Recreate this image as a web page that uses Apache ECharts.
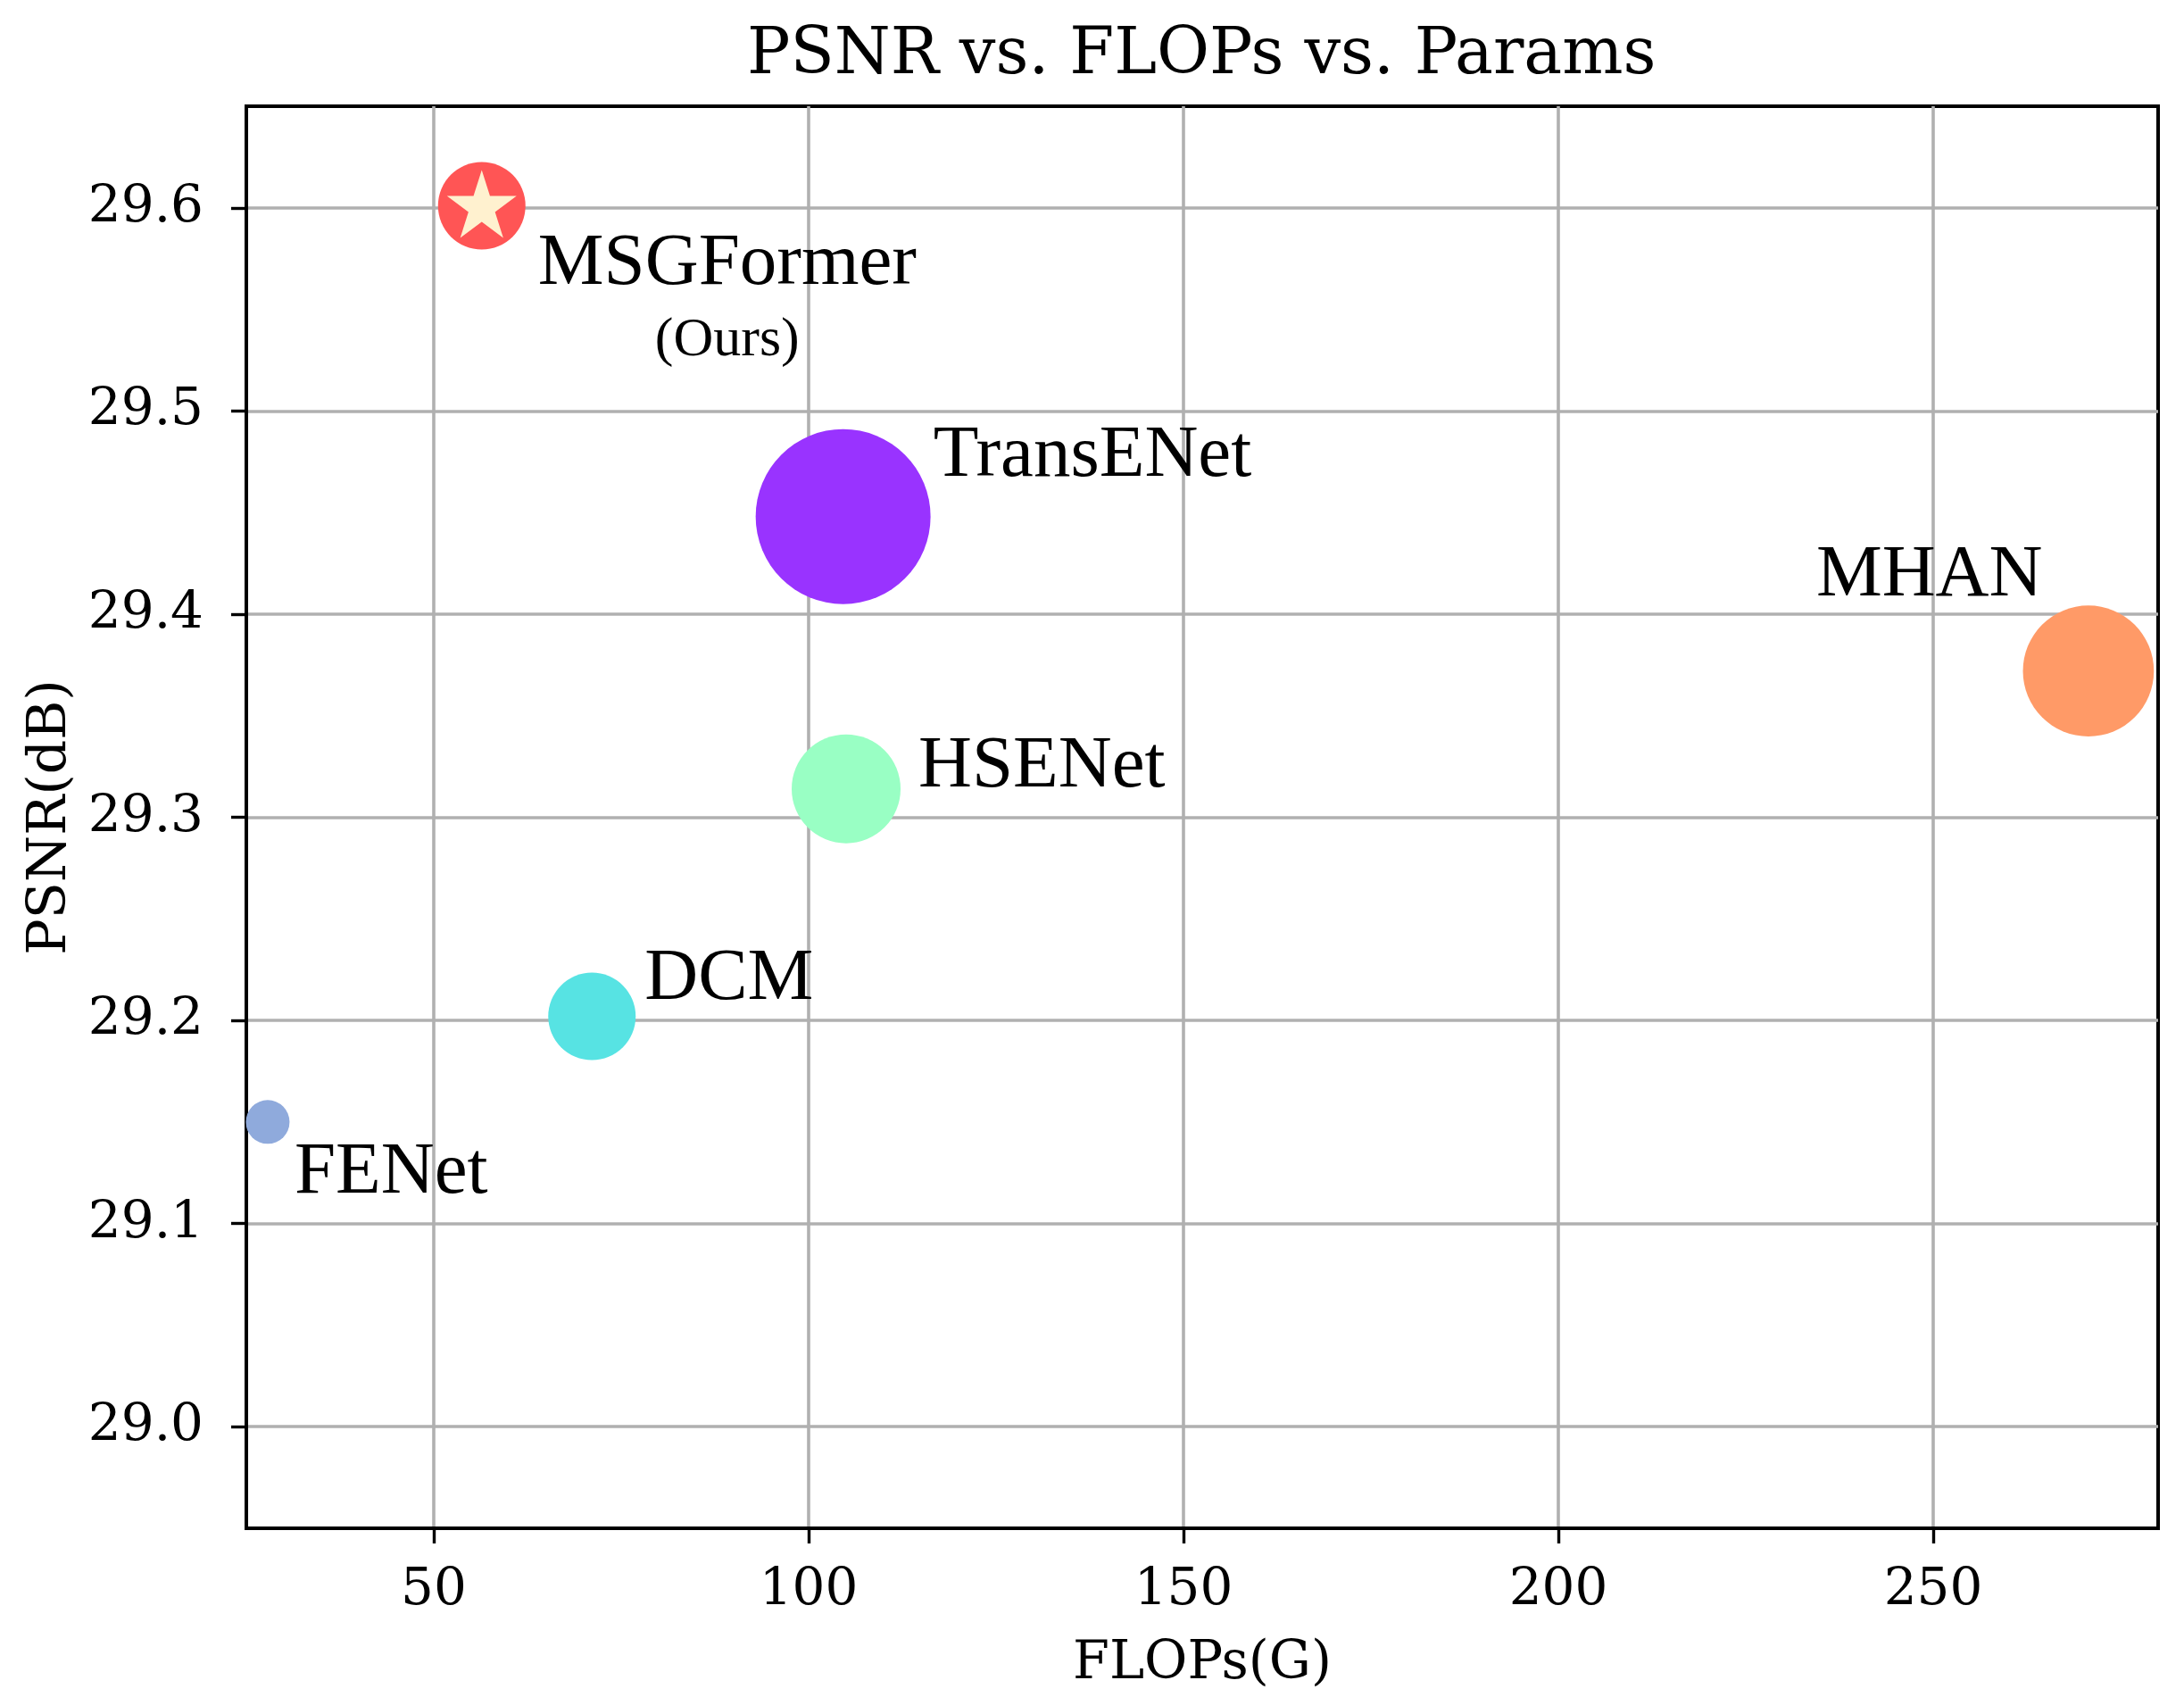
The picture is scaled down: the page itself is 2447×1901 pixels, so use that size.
<!DOCTYPE html>
<html><head><meta charset="utf-8">
<script src="https://cdn.jsdelivr.net/npm/echarts@6/dist/echarts.min.js"></script>
<style>html,body{margin:0;padding:0;background:#fff}#c{width:2447px;height:1901px}</style>
</head><body><div id="c"></div>
<script>
// ---- data ----
const models = ['MSGFormer', 'TransENet', 'MHAN', 'HSENet', 'DCM', 'FENet'];
const flops = [56.4, 104.6, 270.7, 105.0, 71.1, 27.85];
const psnr = [29.601, 29.448, 29.372, 29.314, 29.202, 29.15];
const bubbleArea = [2400, 9600, 5380, 3720, 2400, 600]; // marker area (Params), px^2
const xTicks = [50, 100, 150, 200, 250];
const yTicks = [29.0, 29.1, 29.2, 29.3, 29.4, 29.5, 29.6];
const oursNote = '(Ours)';

// ---- styles ----
const colors = ['#ff5555', '#9933ff', '#ff9a67', '#99ffc4', '#57e3e3', '#8faadc'];
const labelOffsets = [[63, 66], [101, -67], [-305, -106], [81, -24], [59, -41], [30, 57]];
const serif = 'DejaVu Serif';
const times = 'Liberation Serif';

function starPath() {
  const pts = [];
  for (let i = 0; i < 10; i++) {
    const r = i % 2 === 0 ? 1 : 0.381966;
    const a = -Math.PI / 2 + i * Math.PI / 5;
    pts.push((r * Math.cos(a)).toFixed(4) + ',' + (r * Math.sin(a)).toFixed(4));
  }
  return 'path://M' + pts.join('L') + 'Z';
}

const bubbleData = models.map((m, i) => ({
  name: m,
  value: [flops[i], psnr[i], bubbleArea[i]],
  symbolSize: 2 * Math.sqrt(bubbleArea[i]),
  itemStyle: { color: colors[i], opacity: 1 },
  label: {
    show: true, formatter: m, position: 'inside', align: 'left', verticalAlign: 'middle',
    offset: labelOffsets[i], color: '#000', fontFamily: times, fontSize: 83
  }
}));

const chart = echarts.init(document.getElementById('c'), null, { renderer: 'canvas' });
chart.setOption({
  animation: false,
  backgroundColor: '#fff',
  title: {
    text: 'PSNR vs. FLOPs vs. Params',
    left: 832, top: 22,
    textStyle: { fontFamily: serif, fontSize: 72, fontWeight: 'normal', color: '#000' }
  },
  grid: {
    left: 276, right: 29, top: 119, bottom: 189,
    show: true, borderColor: '#000', borderWidth: 4, backgroundColor: 'transparent'
  },
  xAxis: {
    type: 'value', min: 25, max: 280,
    name: 'FLOPs(G)', nameLocation: 'middle', nameGap: 123,
    nameTextStyle: { fontFamily: serif, fontSize: 59, color: '#000' },
    axisLine: { show: true, onZero: false, lineStyle: { color: '#000', width: 4 } },
    axisTick: { show: true, inside: false, length: 17, customValues: xTicks, lineStyle: { color: '#000', width: 3.4 } },
    axisLabel: { customValues: xTicks, margin: 41, fontFamily: serif, fontSize: 58, color: '#000' },
    splitLine: { show: true, lineStyle: { color: '#b0b0b0', width: 3.6 } }
  },
  yAxis: {
    type: 'value', min: 28.95, max: 29.65,
    name: 'PSNR(dB)', nameLocation: 'middle', nameGap: 189,
    nameTextStyle: { fontFamily: serif, fontSize: 60, color: '#000' },
    axisLine: { show: true, onZero: false, lineStyle: { color: '#000', width: 4 } },
    axisTick: { show: true, inside: false, length: 17, customValues: yTicks, lineStyle: { color: '#000', width: 3.4 } },
    axisLabel: { customValues: yTicks, margin: 48, fontFamily: serif, fontSize: 58, color: '#000',
      formatter: v => Number(v).toFixed(1) },
    splitLine: { show: true, lineStyle: { color: '#b0b0b0', width: 3.6 } }
  },
  series: [
    {
      type: 'scatter', name: 'models', symbol: 'circle', data: bubbleData, z: 3
    },
    {
      type: 'scatter', name: 'ours', symbol: starPath(), symbolSize: [78, 76], symbolOffset: [0, -2], z: 4,
      itemStyle: { color: '#fff1cf', opacity: 1 },
      data: [{
        value: [flops[0], psnr[0]],
        label: {
          show: true, formatter: oursNote, position: 'inside', align: 'center', verticalAlign: 'middle',
          offset: [275, 153], color: '#000', fontFamily: times, fontSize: 62
        }
      }]
    }
  ]
});
</script>
</body></html>
